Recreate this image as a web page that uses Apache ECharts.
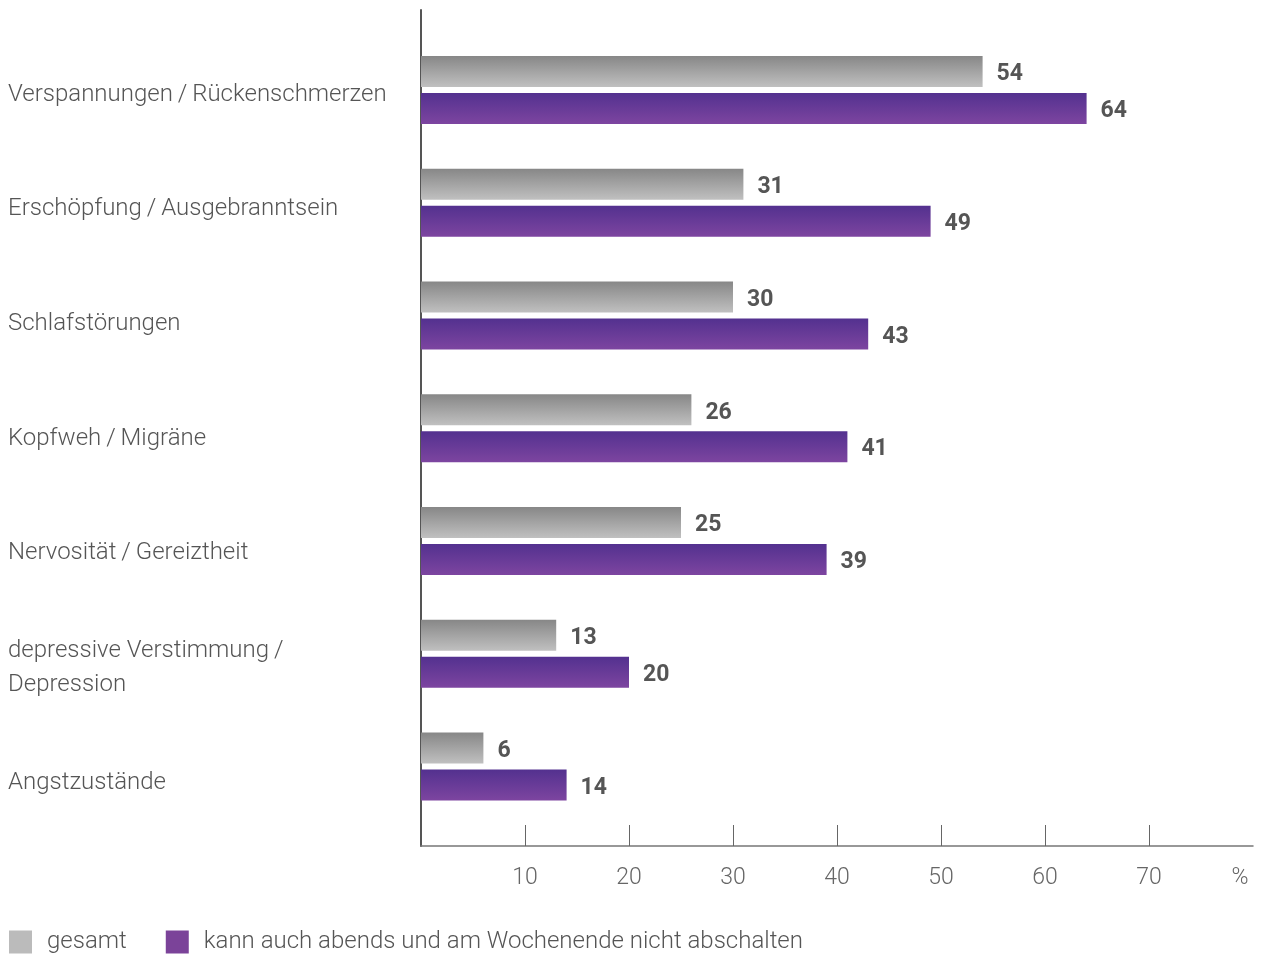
<!DOCTYPE html>
<html>
<head>
<meta charset="utf-8">
<script src="https://cdn.jsdelivr.net/npm/echarts@6/dist/echarts.min.js"></script>
<style>
  html, body { margin: 0; padding: 0; background: #fff; }
  #chart { width: 1261px; height: 954px; }
</style>
</head>
<body>
<div id="chart"></div>
<script>
// Beschwerden nach Gruppe (in Prozent)
const categories = [
  'Verspannungen\u2009/\u2009Rückenschmerzen',
  'Erschöpfung\u2009/\u2009Ausgebranntsein',
  'Schlafstörungen',
  'Kopfweh\u2009/\u2009Migräne',
  'Nervosität\u2009/\u2009Gereiztheit',
  'depressive Verstimmung\u2009/\nDepression',
  'Angstzustände'
];
const seriesNames = ['gesamt', 'kann auch abends und am Wochenende nicht abschalten'];
const gesamt = [54, 31, 30, 26, 25, 13, 6];
const nichtAbschalten = [64, 49, 43, 41, 39, 20, 14];
const tickValues = [10, 20, 30, 40, 50, 60, 70];
const labelValues = [10, 20, 30, 40, 50, 60, 70, 80];

const FONT = 'Roboto, "Open Sans", sans-serif';
const TEXT = '#555';

const grayGrad = new echarts.graphic.LinearGradient(0, 0, 0, 1, [
  { offset: 0, color: '#878787' }, { offset: 1, color: '#c0c0c0' }
]);
const purpleGrad = new echarts.graphic.LinearGradient(0, 0, 0, 1, [
  { offset: 0, color: '#53318f' }, { offset: 1, color: '#7d45a0' }
]);

const valueLabel = {
  show: true, position: 'right', distance: 14, offset: [0, 3],
  color: TEXT, fontFamily: FONT, fontWeight: 'bold', fontSize: 23
};

const chart = echarts.init(document.getElementById('chart'), null, { renderer: 'canvas' });
chart.setOption({
  animation: false,
  backgroundColor: '#fff',
  textStyle: { fontFamily: FONT },
  grid: [
    // bars
    { left: 421, top: 33.6, width: 832, height: 789.3 },
    // axis frame
    { left: 421, top: 10, width: 832, height: 836 },
    // category names
    { left: 421, top: 37.5, width: 832, height: 802.6 }
  ],
  xAxis: [
    { gridIndex: 0, type: 'value', min: 0, max: 80, interval: 10, show: false },
    {
      gridIndex: 1, type: 'value', min: 0, max: 80, interval: 10,
      axisLine: { show: true, lineStyle: { color: '#777', width: 1.5 } },
      axisTick: { show: true, inside: true, length: 21, customValues: tickValues, lineStyle: { color: '#666', width: 1 } },
      splitLine: { show: false },
      axisLabel: {
        customValues: labelValues,
        margin: 21,
        color: '#666', fontFamily: FONT, fontWeight: 300, fontSize: 23,
        formatter: v => v === 80 ? '{p|%}' : String(v),
        rich: { p: { color: '#666', fontFamily: FONT, fontWeight: 300, fontSize: 23, padding: [0, 26, 0, 0] } }
      }
    },
    { gridIndex: 2, type: 'value', min: 0, max: 80, show: false }
  ],
  yAxis: [
    {
      gridIndex: 0, type: 'category', data: categories, inverse: true,
      axisLine: { show: false }, axisTick: { show: false }, axisLabel: { show: false }
    },
    {
      gridIndex: 1, type: 'value', min: 0, max: 1,
      axisLine: { show: true, lineStyle: { color: '#555', width: 2 } },
      axisTick: { show: false }, axisLabel: { show: false }, splitLine: { show: false }
    },
    {
      gridIndex: 2, type: 'category', data: categories, inverse: true,
      axisLine: { show: false }, axisTick: { show: false },
      axisLabel: {
        align: 'left', margin: 413, color: TEXT, fontFamily: FONT, fontWeight: 300,
        fontSize: 24, lineHeight: 34
      }
    }
  ],
  legend: {
    left: 9, top: 930, padding: 0, itemWidth: 23, itemHeight: 23, itemGap: 39,
    icon: 'rect',
    textStyle: { color: TEXT, fontFamily: FONT, fontWeight: 300, fontSize: 24, padding: [0, 0, 0, 10] },
    data: [
      { name: seriesNames[0], itemStyle: { color: '#bbbbbb' } },
      { name: seriesNames[1], itemStyle: { color: '#7b4399' } }
    ]
  },
  series: [
    {
      name: seriesNames[0], type: 'bar', xAxisIndex: 0, yAxisIndex: 0,
      data: gesamt, barWidth: 31, barGap: '19%',
      itemStyle: { color: grayGrad }, label: valueLabel
    },
    {
      name: seriesNames[1], type: 'bar', xAxisIndex: 0, yAxisIndex: 0,
      data: nichtAbschalten, barWidth: 31, barGap: '19%',
      itemStyle: { color: purpleGrad }, label: valueLabel
    }
  ]
});
</script>
</body>
</html>
